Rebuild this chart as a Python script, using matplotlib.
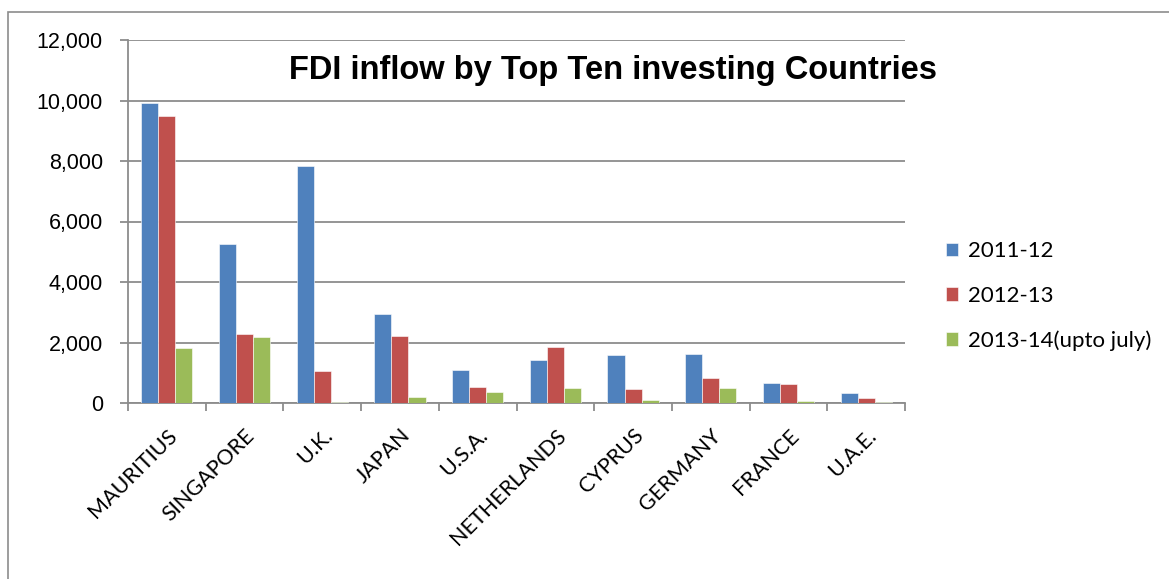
import matplotlib
matplotlib.use("Agg")
import matplotlib.pyplot as plt
import numpy as np
from matplotlib.patches import Rectangle
from matplotlib.ticker import FuncFormatter

countries = ["MAURITIUS", "SINGAPORE", "U.K.", "JAPAN", "U.S.A.", "NETHERLANDS",
             "CYPRUS", "GERMANY", "FRANCE", "U.A.E."]
s2011_12 = [9930, 5240, 7850, 2950, 1105, 1408, 1587, 1620, 659, 346]
s2012_13 = [9480, 2285, 1050, 2210, 536, 1855, 469, 838, 637, 156]
s2013_14 = [1830, 2185, 30, 210, 358, 503, 112, 503, 78, 34]
series_names = ["2011-12", "2012-13", "2013-14(upto july)"]
colors = ["#4F81BD", "#C0504D", "#9BBB59"]

plt.rcParams['font.family'] = ['Liberation Sans', 'DejaVu Sans']

fig = plt.figure(figsize=(11.69, 5.79), dpi=100)
W, H = 1169, 579
ax = fig.add_axes([128 / W, 1 - 403 / H, (905 - 128) / W, (403 - 40) / H])

fig.patches.append(Rectangle((8 / W, -0.05), 1.2, 1 - 12 / H + 0.05, transform=fig.transFigure,
                             fill=False, edgecolor="#8c8c8c", linewidth=1.2))

x = np.arange(len(countries))
bw = 0.22
for i, (vals, name, c) in enumerate(zip([s2011_12, s2012_13, s2013_14], series_names, colors)):
    ax.bar(x + (i - 1) * bw, vals, bw, color=c, label=name, zorder=3,
           edgecolor="white", linewidth=0.4)

ax.set_xlim(-0.5, len(countries) - 0.5)
ax.set_ylim(0, 12000)
ax.set_yticks(np.arange(0, 12001, 2000))
ax.yaxis.set_major_formatter(FuncFormatter(lambda v, p: f"{int(v):,}"))
ax.grid(axis="y", color="#8c8c8c", linewidth=1.3, zorder=0)
ax.set_xticks(x)
ax.set_xticklabels(countries, rotation=45, ha="right", rotation_mode="anchor",
                   fontsize=15.5, family=["Lato", "DejaVu Sans"])
ax.tick_params(axis="x", length=0, pad=16)
ax.set_xticks(np.arange(-0.5, len(countries)), minor=True)
ax.tick_params(axis="x", which="minor", length=6, color="#8c8c8c", width=1.3)
ax.tick_params(axis="y", length=6, color="#8c8c8c", width=1.3, pad=12, labelsize=15.5)
for s in ["top", "right"]:
    ax.spines[s].set_visible(False)
for s in ["left", "bottom"]:
    ax.spines[s].set_color("#8c8c8c")
    ax.spines[s].set_linewidth(1.3)

fig.text(613 / W, 1 - 71 / H, "FDI inflow by Top Ten investing Countries", ha="center", va="center",
         fontsize=23.5, fontweight="bold")

ax.legend(loc="center left", bbox_to_anchor=(926 / W, 1 - 296 / H), bbox_transform=fig.transFigure,
          frameon=False, prop={"family": ["Lato", "DejaVu Sans"], "size": 16},
          handlelength=0.55, handleheight=0.55, labelspacing=1.1, handletextpad=0.45)

fig.savefig("out.png", dpi=100)
